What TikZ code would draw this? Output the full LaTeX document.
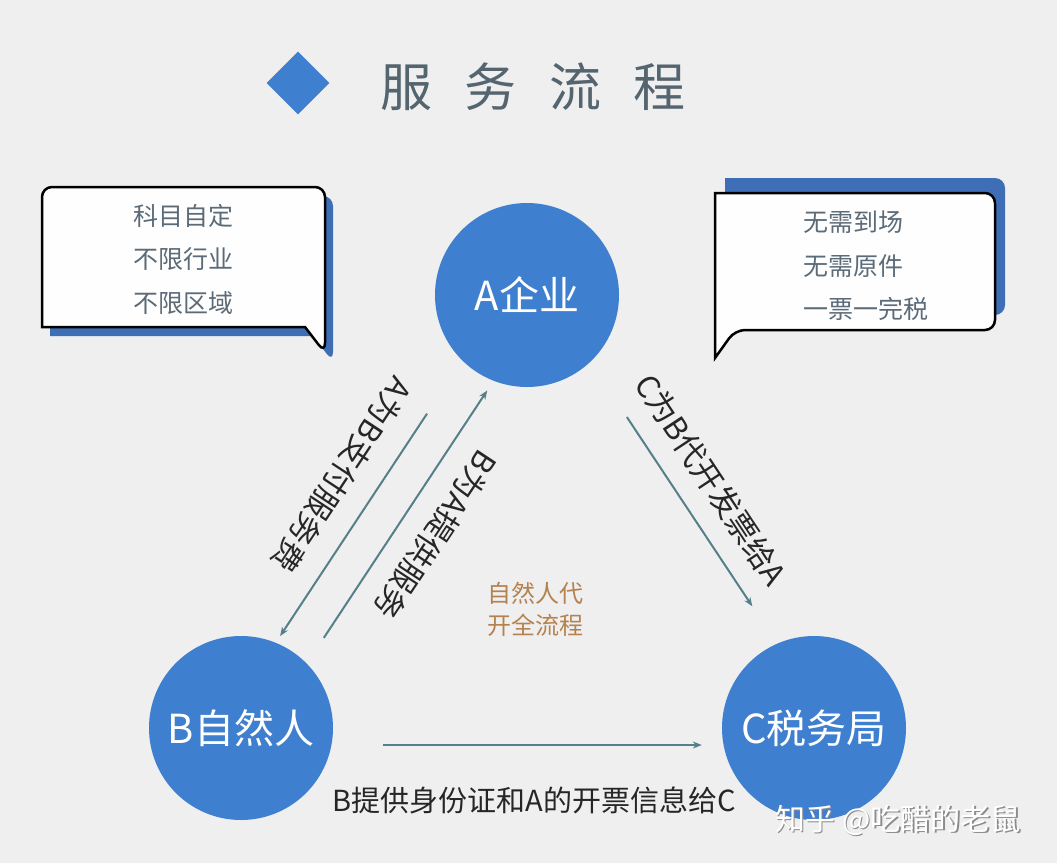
\documentclass[tikz,border=0pt]{standalone}
\usepackage{fontspec}
\setmainfont{Noto Sans CJK SC}
\usepackage{tikz}
\usetikzlibrary{shapes.geometric,arrows.meta,positioning}
\definecolor{bgGray}{HTML}{EFEFEF}
\definecolor{circBlue}{HTML}{3F7FD0}
\definecolor{shadowBlue}{HTML}{3E6FB6}
\definecolor{arrowTeal}{HTML}{557F8A}
\definecolor{titleGray}{HTML}{55656F}
\definecolor{noteGray}{HTML}{5C6B78}
\definecolor{flowOrange}{HTML}{B5824F}

\begin{document}
\begin{tikzpicture}[
        x=1pt, y=1pt,
        party/.style={circle, fill=circBlue, minimum size=184pt, inner sep=0pt, text=white, font=\fontsize{40}{48}\selectfont},
        note/.style={text=noteGray, align=left, anchor=west, font=\fontsize{25}{43.5}\selectfont},
        bubble/.style={draw=black, line width=2.5pt, fill=white!96!bgGray},
        bubbleshadow/.style={fill=shadowBlue},
        arrow/.style={-{Stealth[length=9pt,width=7pt]}, line width=2pt, draw=arrowTeal},
        flowlabel/.style={text=black!85, font=\fontsize{31}{36}\selectfont}
    ]
        % Background
        \fill[bgGray] (0,0) rectangle (1057,-863);
        \useasboundingbox (0,0) rectangle (1057,-863);

        % Title
        \node[diamond, fill=circBlue, minimum size=63pt, inner sep=0pt] (mark) at (298,-83) {};
        \node[text=titleGray, font=\fontsize{52}{60}\selectfont] (title) at (533,-87) {服\kern0.62em务\kern0.62em流\kern0.62em程};

        % Parties
        \node[party] (A) at (527,-295) {A企业};
        \node[party, on grid, below left=433pt and 286pt of A] (B) {B自然人};
        \node[party, on grid, below right=433pt and 287pt of A] (C) {C税务局};

        % Left bubble
        \fill[bubbleshadow, shift={(8,-9)}] (42,-257) [rounded corners=10pt] -- (42,-187) -- (325,-187) -- (325,-353) [sharp corners] -- (305,-327) -- (42,-327) [rounded corners=10pt] -- cycle;
        \draw[bubble] (42,-257) [rounded corners=10pt] -- (42,-187) -- (325,-187) -- (325,-353) [sharp corners] -- (305,-327) -- (42,-327) [rounded corners=10pt] -- cycle;
        \node[note] (leftNote) at (130,-259) {科目自定\\不限行业\\不限区域};

        % Right bubble
        \fill[bubbleshadow, shift={(10,15)}] (855,-193) [rounded corners=10pt] -- (995,-193) -- (995,-330) -- (735,-330) [sharp corners] -- (715,-358) -- (715,-193) [rounded corners=10pt] -- cycle;
        \draw[bubble] (855,-193) [rounded corners=10pt] -- (995,-193) -- (995,-330) -- (735,-330) [sharp corners] -- (715,-358) -- (715,-193) [rounded corners=10pt] -- cycle;
        \node[note] (rightNote) at (800,-266) {无需到场\\无需原件\\一票一完税};

        % Arrows
        \draw[arrow, transform canvas={xshift=-15pt, yshift=10pt}, shorten <=62pt, shorten >=6pt] (A) -- (B);
        \draw[arrow, transform canvas={xshift=16pt, yshift=-11pt}, shorten <=29pt, shorten >=9pt] (B) -- (A);
        \draw[arrow, transform canvas={xshift=13pt, yshift=9pt}, shorten <=65pt, shorten >=43pt] (A) -- (C);
        \draw[arrow, transform canvas={yshift=-17pt}, shorten <=50pt, shorten >=20pt] (B) -- (C);

        % Labels
        \node[flowlabel, rotate=-123.5] (payLabel) at (342,-475) {A为B支付服务费};
        \node[flowlabel, rotate=-123.5] (serveLabel) at (436,-535) {B为A提供服务};
        \node[flowlabel, rotate=-56.5] (invoiceLabel) at (711,-480) {C为B代开发票给A};
        \node[flowlabel, font=\fontsize{29}{34}\selectfont] (infoLabel) at (534,-800) {B提供身份证和A的开票信息给C};
        \node[text=flowOrange, align=center, font=\fontsize{24}{32}\selectfont] (flowNote) at (535,-609) {自然人代\\开全流程};

        % Watermark
        \node[text=black!45, font=\fontsize{30}{36}\selectfont] at (899.5,-821.5) {知乎 @吃醋的老鼠};
        \node[text=white, font=\fontsize{30}{36}\selectfont] (mark2) at (898,-820) {知乎 @吃醋的老鼠};
    \end{tikzpicture}
\end{document}
